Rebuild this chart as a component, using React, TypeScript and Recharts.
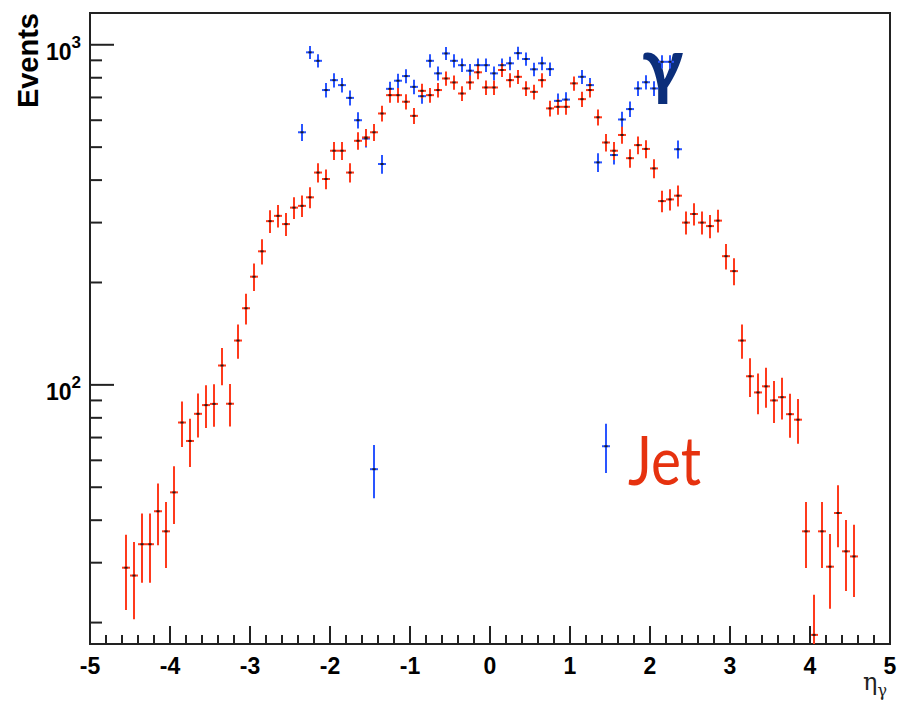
import React from 'react';
import { ScatterChart, Scatter, XAxis, YAxis, ErrorBar, ReferenceArea } from 'recharts';

// Pseudorapidity bin centres (bin width 0.1) and weighted event counts
const jetEta = [
  -4.55, -4.45, -4.35, -4.25, -4.15, -4.05, -3.95, -3.85, -3.75, -3.65,
  -3.55, -3.45, -3.35, -3.25, -3.15, -3.05, -2.95, -2.85, -2.75, -2.65,
  -2.55, -2.45, -2.35, -2.25, -2.15, -2.05, -1.95, -1.85, -1.75, -1.65,
  -1.55, -1.45, -1.35, -1.25, -1.15, -1.05, -0.95, -0.85, -0.75, -0.65,
  -0.55, -0.45, -0.35, -0.25, -0.15, -0.05, 0.05, 0.15, 0.25, 0.35,
  0.45, 0.55, 0.65, 0.75, 0.85, 0.95, 1.05, 1.15, 1.25, 1.35,
  1.45, 1.55, 1.65, 1.75, 1.85, 1.95, 2.05, 2.15, 2.25, 2.35,
  2.45, 2.55, 2.65, 2.75, 2.85, 2.95, 3.05, 3.15, 3.25, 3.35,
  3.45, 3.55, 3.65, 3.75, 3.85, 3.95, 4.05, 4.15, 4.25, 4.35,
  4.45, 4.55,
];
const jetEvents = [
  29.0, 27.5, 34.0, 34.0, 42.5, 37.1, 48.3, 77.5, 68.4, 82.2,
  87.2, 87.9, 114, 88, 135, 168, 208, 247, 303, 314,
  297, 332, 336, 356, 421, 403, 488, 488, 421, 522,
  534, 553, 628, 711, 711, 680, 618, 732, 711, 736,
  796, 775, 719, 775, 830, 749, 749, 843, 787, 805,
  744, 727, 787, 650, 657, 657, 770, 692, 736, 612,
  516, 488, 543, 464, 507, 494, 433, 347, 351, 360,
  300, 318, 300, 293, 304, 239, 216, 135, 106, 95,
  99, 90, 92, 82, 79, 37.1, 18.4, 37.1, 29.2, 42.0,
  32.4, 31.3,
];

const photonEta = [
  -2.35, -2.25, -2.15, -2.05, -1.95, -1.85, -1.75, -1.65, -1.55, -1.45,
  -1.35, -1.25, -1.15, -1.05, -0.95, -0.85, -0.75, -0.65, -0.55, -0.45,
  -0.35, -0.25, -0.15, -0.05, 0.05, 0.15, 0.25, 0.35, 0.45, 0.55,
  0.65, 0.75, 0.85, 0.95, 1.15, 1.25, 1.35, 1.45, 1.55, 1.65,
  1.75, 1.85, 1.95, 2.05, 2.15, 2.25, 2.35,
];
const photonEvents = [
  553, 950, 897, 736, 787, 761, 698, 600, 530, 56.5,
  446, 742, 784, 809, 752, 706, 897, 824, 943, 897,
  871, 839, 871, 871, 824, 871, 882, 945, 908, 847,
  882, 848, 684, 690, 805, 761, 451, 66, 474, 603,
  647, 744, 776, 744, 891, 891, 493,
];

const xMajorTicks = [-5, -4, -3, -2, -1, 0, 1, 2, 3, 4, 5];
const xMinorStep = 0.2;
const yMajorTicks = [100, 1000];
const yMinorTicks = [20, 30, 40, 50, 60, 70, 80, 90, 200, 300, 400, 500, 600, 700, 800, 900];
const yDomain = [17.3, 1240];

const binHalfWidth = 0.05;
// per-event weight: statistical error is sqrt(sum w^2) = sqrt(w * N)
const eventWeight = 1.8;

const JET_COLOR = '#ff3a1c';
const PHOTON_COLOR = '#2a55ff';
const AXIS_COLOR = '#222';
const SANS = '"Liberation Sans", Arial, Helvetica, sans-serif';

// Error whiskers are [lower, upper]; the lower one stops at the bottom of the frame.
const buildSeries = (etas: number[], counts: number[]) =>
  etas.map((eta, i) => {
    const n = counts[i];
    const e = Math.sqrt(eventWeight * n);
    return {
      eta,
      events: n,
      err: [Math.min(e, n - yDomain[0]), e],
      xerr: binHalfWidth,
    };
  });

const jetData = buildSeries(jetEta, jetEvents);
const photonData = buildSeries(photonEta, photonEvents);

const xTicks: number[] = [];
for (let k = 0; k <= (xMajorTicks[xMajorTicks.length - 1] - xMajorTicks[0]) / xMinorStep + 1e-9; k++) {
  xTicks.push(Math.round((xMajorTicks[0] + k * xMinorStep) * 10) / 10);
}
const yTicks = [...yMinorTicks, ...yMajorTicks].sort((a, b) => a - b);

const XTick = (props: any) => {
  const { x, y, payload } = props;
  const v = payload.value as number;
  const major = xMajorTicks.some((t) => Math.abs(t - v) < 1e-6);
  return (
    <g>
      <line x1={x} x2={x} y1={y} y2={y - (major ? 18 : 9)} stroke={AXIS_COLOR} strokeWidth={2} />
      {major && (
        <text x={x} y={y + 29.5} textAnchor="middle" fontSize={23} fontWeight="bold" fontFamily={SANS} fill="#000">
          {String(Math.round(v))}
        </text>
      )}
    </g>
  );
};

const YTick = (props: any) => {
  const { x, y, payload } = props;
  const v = payload.value as number;
  const major = yMajorTicks.includes(v);
  return (
    <g>
      <line x1={x} x2={x + (major ? 24 : 12)} y1={y} y2={y} stroke={AXIS_COLOR} strokeWidth={2} />
      {major && (
        <text x={x - 9} y={y + 15.5} textAnchor="end" fontSize={23} fontWeight="bold" fontFamily={SANS} fill="#000">
          10
          <tspan dy={-12.5} fontSize={17}>
            {String(Math.round(Math.log10(v)))}
          </tspan>
        </text>
      )}
    </g>
  );
};

const CentreDot = (props: any) => {
  const { cx, cy } = props;
  return <rect x={cx - 1.5} y={cy - 1} width={3} height={2} fill="#111" opacity={0.85} />;
};

export default function App() {
  return (
    <div style={{ position: 'absolute', left: 0, top: 0, width: 897, height: 714, background: '#fff' }}>
      <ScatterChart width={897} height={714} margin={{ top: 13, right: 7, bottom: 0, left: 0 }}>
        <XAxis
          type="number"
          dataKey="eta"
          domain={[-5, 5]}
          allowDataOverflow
          ticks={xTicks}
          interval={0}
          height={70}
          tickSize={0}
          tickMargin={0}
          tickLine={false}
          axisLine={false}
          tick={<XTick />}
        />
        <YAxis
          type="number"
          dataKey="events"
          scale="log"
          domain={yDomain}
          allowDataOverflow
          ticks={yTicks}
          interval={0}
          width={90}
          tickSize={0}
          tickMargin={0}
          tickLine={false}
          axisLine={false}
          tick={<YTick />}
        />
        <ReferenceArea
          x1={-5}
          x2={5}
          y1={yDomain[0]}
          y2={yDomain[1]}
          fill="none"
          fillOpacity={0}
          stroke={AXIS_COLOR}
          strokeWidth={2}
        />
        <text x={642} y={91} fontSize={74} fontWeight="bold" fontFamily="Lato, sans-serif" fill="#0b2e7a">
          γ
        </text>
        <text
          x={628}
          y={485}
          fontSize={68}
          fontFamily="Lato, sans-serif"
          fill="#e6320f"
          textLength={73}
          lengthAdjust="spacingAndGlyphs"
        >
          Jet
        </text>
        <Scatter data={photonData} shape={<CentreDot />} isAnimationActive={false}>
          <ErrorBar dataKey="err" direction="y" width={0} stroke={PHOTON_COLOR} strokeWidth={2} />
          <ErrorBar dataKey="xerr" direction="x" width={0} stroke={PHOTON_COLOR} strokeWidth={2} />
        </Scatter>
        <Scatter data={jetData} shape={<CentreDot />} isAnimationActive={false}>
          <ErrorBar dataKey="err" direction="y" width={0} stroke={JET_COLOR} strokeWidth={2} />
          <ErrorBar dataKey="xerr" direction="x" width={0} stroke={JET_COLOR} strokeWidth={2} />
        </Scatter>
        <text
          x={38}
          y={13}
          transform="rotate(-90 38 13)"
          textAnchor="end"
          fontSize={29}
          fontWeight="bold"
          fontFamily={SANS}
          fill="#000"
        >
          Events
        </text>
        <text x={863} y={690} fontSize={24} fontFamily='"DejaVu Serif", serif' fill="#222">
          η
          <tspan dy={6} fontSize={16}>
            γ
          </tspan>
        </text>
      </ScatterChart>
    </div>
  );
}
